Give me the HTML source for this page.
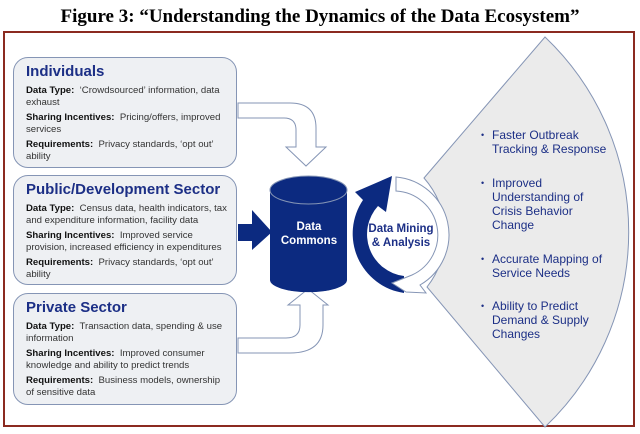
<!DOCTYPE html>
<html><head><style>
body{margin:0;width:640px;height:434px;background:#fff;position:relative;overflow:hidden;font-family:"Liberation Sans",Arial,sans-serif}
.title{position:absolute;top:6px;left:0;width:640px;text-align:center;font:bold 19px "Liberation Serif",serif;color:#000}
.box{position:absolute;left:13px;width:224px;box-sizing:border-box;border:1.3px solid #8595b5;border-radius:15px;background:#eef0f3;padding:5px 8px 0 12px;font-size:9.6px;color:#333;line-height:11.5px}
.box h3{margin:0 0 5px;font-size:15px;color:#1c2f86;line-height:17px}
.box p{margin:0 0 4px}
.box b{color:#111}
svg{position:absolute;left:0;top:0}
.li{position:absolute;left:492px;font-size:12px;color:#1c2f86;line-height:14px}
.li:before{content:"•";position:absolute;left:-11px;font-size:9px}
</style></head><body>
<div class="title">Figure 3: “Understanding the Dynamics of the Data Ecosystem”</div>
<svg width="640" height="434">
<rect x="4" y="32" width="630" height="394" fill="none" stroke="#8b2a20" stroke-width="2"/>
<path d="M424,178 L545,37 A269,269 0 0 1 545,427 L427,287 A85,85 0 0 0 424,178 Z" fill="#ebebeb" stroke="#8595b5" stroke-width="1"/>
<path d="M238,103 L290,103 Q316,103 316,128 L316,147 L326,147 L306,166 L286,147 L296,147 L296,130 Q296,118 284,118 L238,118 Z" fill="#fff" stroke="#8595b5" stroke-width="1"/>
<path d="M238,353 L290,353 Q323,353 323,325 L323,305 L328,305 L308,289 L288,305 L300,305 L300,325 Q300,338 286,338 L238,338 Z" fill="#fff" stroke="#8595b5" stroke-width="1"/>
<path d="M238,224 L252,224 L252,210 L272,232 L252,250 L252,241 L238,241 Z" fill="#0c2a80"/>
<path d="M270,190 L270,280 A38,12 0 0 0 347,280 L347,190 Z" fill="#0c2a80"/>
<ellipse cx="308.5" cy="190" rx="38.5" ry="14" fill="#0c2a80" stroke="#8595b5" stroke-width="1"/>
<text x="309" y="230" font-size="11.5" font-weight="bold" fill="#fff" text-anchor="middle">Data</text>
<text x="309" y="244" font-size="11.5" font-weight="bold" fill="#fff" text-anchor="middle">Commons</text>
<path d="M404,293 A60,60 0 0 1 363,200 L355,192 L392,176 L386,212 L378,206 A42,42 0 0 0 404,276 Z" fill="#0c2a80"/>
<path d="M396,177 A58,58 0 0 1 420,285 L426,293 L406,292 L392,283 L412,275 A44,44 0 0 0 396,191 Z" fill="#fff" stroke="#8595b5" stroke-width="1"/>
<text x="401" y="232" font-size="11.5" font-weight="bold" fill="#1c2f86" text-anchor="middle">Data Mining</text>
<text x="401" y="246" font-size="11.5" font-weight="bold" fill="#1c2f86" text-anchor="middle">&amp; Analysis</text>
</svg>
<div class="box" style="top:57px;height:111px"><h3>Individuals</h3>
<p><b>Data Type:</b>&nbsp; ‘Crowdsourced’ information, data exhaust</p>
<p><b>Sharing Incentives:</b>&nbsp; Pricing/offers, improved services</p>
<p><b>Requirements:</b>&nbsp; Privacy standards, ‘opt out’ ability</p></div>
<div class="box" style="top:175px;height:110px"><h3>Public/Development Sector</h3>
<p><b>Data Type:</b>&nbsp; Census data, health indicators, tax and expenditure information, facility data</p>
<p><b>Sharing Incentives:</b>&nbsp; Improved service provision, increased efficiency in expenditures</p>
<p><b>Requirements:</b>&nbsp; Privacy standards, ‘opt out’ ability</p></div>
<div class="box" style="top:293px;height:112px"><h3>Private Sector</h3>
<p><b>Data Type:</b>&nbsp; Transaction data, spending &amp; use information</p>
<p><b>Sharing Incentives:</b>&nbsp; Improved consumer knowledge and ability to predict trends</p>
<p><b>Requirements:</b>&nbsp; Business models, ownership of sensitive data</p></div>
<div class="li" style="top:128px">Faster Outbreak<br>Tracking &amp; Response</div>
<div class="li" style="top:176px">Improved<br>Understanding of<br>Crisis Behavior<br>Change</div>
<div class="li" style="top:252px">Accurate Mapping of<br>Service Needs</div>
<div class="li" style="top:299px">Ability to Predict<br>Demand &amp; Supply<br>Changes</div>
</body></html>
